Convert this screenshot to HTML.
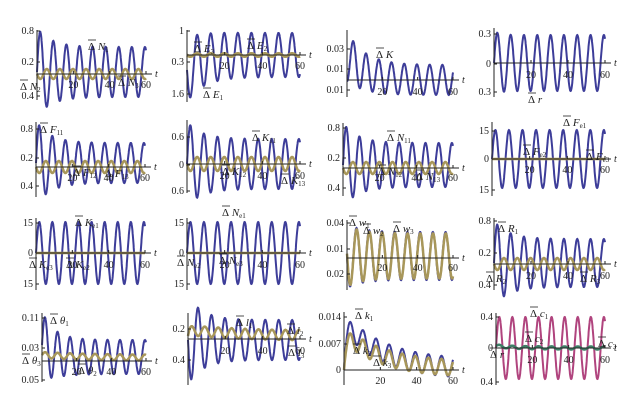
<!DOCTYPE html>
<html><head><meta charset="utf-8"><style>
html,body{margin:0;padding:0;background:#fff}
svg{display:block}
text{font-family:"Liberation Serif",serif;fill:#222}
</style></head><body>
<svg id="s" width="641" height="401" viewBox="0 0 641 401" xmlns="http://www.w3.org/2000/svg"></svg>
<script>
const S=document.getElementById('s');
const NS='http://www.w3.org/2000/svg';
function el(n,a,t){const e=document.createElementNS(NS,n);for(const k in a)e.setAttribute(k,a[k]);if(t!==undefined)e.textContent=t;S.appendChild(e);return e;}
const B='#3d3d99',Y='#a8975a',P='#b0447e',G='#3f7d66';
const w=2*Math.PI/7.2;
const E=Math.exp,sin=Math.sin,cos=Math.cos;
function curve(p,f,col,sw){
  let d='';
  for(let i=0;i<=600;i++){const t=i/10;const x=p.ax+t*(p.x60-p.ax)/60;const y=f(t);d+=(i?'L':'M')+x.toFixed(1)+' '+y.toFixed(1);}
  el('path',{d:d,fill:'none',stroke:col,'stroke-width':sw||2});
}
function lab(x,y,L,sub){
  el('line',{x1:x,y1:y-10,x2:x+8,y2:y-10,stroke:'#222','stroke-width':0.8});
  const t=el('text',{x:x,y:y,'font-size':11});
  const a=document.createElementNS(NS,'tspan');a.textContent='\u0394';t.appendChild(a);
  const b=document.createElementNS(NS,'tspan');b.setAttribute('font-style','italic');b.textContent=' '+L;t.appendChild(b);
  if(sub){const c=document.createElementNS(NS,'tspan');c.setAttribute('font-size',7);c.setAttribute('dy',2);c.textContent=sub;t.appendChild(c);}
}
function panel(p){
  p.curves.forEach(c=>curve(p,c[0],c[1],c[2]));
  el('line',{x1:p.ax,y1:p.top,x2:p.ax,y2:p.bot,stroke:'#222','stroke-width':1});
  el('line',{x1:p.ax,y1:p.zy,x2:p.x60+6,y2:p.zy,stroke:'#222','stroke-width':1});
  el('text',{x:p.x60+9,y:p.zy+3,'font-size':10,'font-style':'italic'},'t');
  p.yt.forEach(v=>{el('text',{x:p.ax-3,y:v[1]+3,'font-size':10,'text-anchor':'end'},v[0]);el('line',{x1:p.ax,y1:v[1],x2:p.ax+3,y2:v[1],stroke:'#222'});});
  [20,40,60].forEach(v=>{const x=p.ax+v*(p.x60-p.ax)/60;el('text',{x:x,y:p.xl,'font-size':10,'text-anchor':'middle'},v);el('line',{x1:x,y1:p.zy,x2:x,y2:p.zy-3,stroke:'#222'});});
  p.labs.forEach(l=>lab(l[0],l[1],l[2],l[3]));
}
const A=(a0,a1,tau)=>t=>a1+(a0-a1)*E(-t/tau);
{const a=A(44,25,8);panel({ax:37,x60:146,zy:74,top:30,bot:100,xl:88,yt:[['0.8',31],['0.2',62],['0.4',96]],
curves:[[t=>72-a(t)*sin(w*t),B],[t=>74+5*sin(w*t),Y,2.5]],labs:[[88,50,'N','1'],[20,90,'N','2'],[118,86,'N','3']]});}
{const a=A(32,22,10);panel({ax:187,x60:300,zy:55,top:30,bot:102,xl:69,yt:[['1',31],['0.3',62],['1.6',94]],
curves:[[t=>55+15*E(-t/8)+a(t)*sin(w*t),B],[t=>55+1.5*sin(w*t),Y,3]],labs:[[194,52,'E','3'],[247,49,'E','2'],[203,98,'E','1']]});}
{panel({ax:347,x60:453,zy:80,top:30,bot:97,xl:95,yt:[['0.03',49],['0.01',69],['0.01',90]],
curves:[[t=>80-24*E(-t/10)+(15+10*E(-t/10))*cos(w*t),B]],labs:[[376,58,'K','']]});}
{panel({ax:494,x60:605,zy:63,top:28,bot:97,xl:78,yt:[['0.3',34],['0',64],['0.3',92]],
curves:[[t=>63-(28+4*E(-t/3))*sin(w*t),B]],labs:[[528,103,'r','']]});}
{const a=A(42,20,8);panel({ax:36,x60:145,zy:167,top:122,bot:197,xl:181,yt:[['0.8',129],['0.2',158],['0.4',186]],
curves:[[t=>163-a(t)*sin(w*t),B],[t=>167+6*sin(w*t),Y,2.5]],labs:[[40,133,'F','11'],[73,176,'F','12'],[105,177,'F','13']]});}
{const a=A(42,25,8);panel({ax:187,x60:300,zy:164,top:120,bot:193,xl:179,yt:[['0.6',137],['0',165],['0.6',191]],
curves:[[t=>164-a(t)*sin(w*t),B],[t=>164+7*sin(w*t),Y,2.5]],labs:[[252,141,'K','11'],[222,175,'K','12'],[281,184,'K','13']]});}
{const a=A(42,22,8);panel({ax:343,x60:453,zy:168,top:123,bot:196,xl:181,yt:[['0.8',128],['0.2',158],['0.4',188]],
curves:[[t=>165-a(t)*sin(w*t),B],[t=>168+6*sin(w*t),Y,2.5]],labs:[[387,141,'N','11'],[378,175,'N','12'],[416,180,'N','13']]});}
{panel({ax:492,x60:605,zy:159,top:122,bot:196,xl:173,yt:[['15',131],['0',159],['15',190]],
curves:[[t=>159-29*sin(w*t),B],[t=>159,Y,2.5]],labs:[[563,126,'F','e1'],[523,155,'F','e2'],[586,160,'F','e3']]});}
{panel({ax:36,x60:145,zy:253,top:218,bot:290,xl:268,yt:[['15',223],['0',253],['15',284]],
curves:[[t=>253-31*sin(w*t),B],[t=>253,Y,2.5]],labs:[[75,226,'K','e1'],[29,268,'K','e3'],[66,268,'K','e2']]});}
{panel({ax:187,x60:300,zy:253,top:218,bot:290,xl:268,yt:[['15',223],['0',253],['15',284]],
curves:[[t=>253-31*sin(w*t),B],[t=>253,Y,2.5]],labs:[[222,216,'N','e1'],[177,266,'N','e2'],[219,264,'N','e3']]});}
{const a=A(32,24,8);panel({ax:347,x60:453,zy:258,top:220,bot:290,xl:271,yt:[['0.04',223],['0.01',249],['0.02',274]],
curves:[[t=>256+a(t)*sin(w*t),B],[t=>256+(a(t)-1.5)*sin(w*t-0.08),Y,2.5]],labs:[[349,226,'w','1'],[363,234,'w','2'],[393,232,'w','3']]});}
{const a=A(42,24,8);panel({ax:494,x60:605,zy:264,top:218,bot:290,xl:279,yt:[['0.8',221],['0.2',253],['0.4',285]],
curves:[[t=>263-a(t)*sin(w*t),B],[t=>264+6*sin(w*t),Y,2.5]],labs:[[498,232,'R','1'],[486,282,'R','2'],[580,282,'R','3']]});}
{const a=A(34,17,8);panel({ax:42,x60:146,zy:361,top:313,bot:382,xl:375,yt:[['0.11',318],['0.03',348],['0.05',380]],
curves:[[t=>357-12*E(-t/6)-a(t)*sin(w*t),B],[t=>358-3*E(-t/30)-3*sin(w*t),Y,2.5]],labs:[[50,324,'θ','1'],[22,364,'θ','3'],[78,374,'θ','2']]});}
{const a=A(44,20,8);panel({ax:188,x60:300,zy:339,top:313,bot:385,xl:354,yt:[['0.2',329],['0.4',360]],
curves:[[t=>340+a(t)*sin(w*t),B],[t=>336-6*(1-E(-t))*E(-t/30)-5*sin(w*t),Y,2.5]],labs:[[236,326,'l','1'],[287,334,'l','2'],[288,356,'l','3']]});}
{panel({ax:344,x60:453,zy:370,top:312,bot:385,xl:384,yt:[['0.014',317],['0.007',344],['0',370]],
curves:[[t=>370-48*E(-t/22)*(1-E(-t/1.2))-10*sin(w*(t-1.5))*(1-E(-t/1.2)),B],[t=>370-36*E(-t/22)*(1-E(-t/1.2))-8*sin(w*(t-1.5))*(1-E(-t/1.2)),Y,2.5]],labs:[[355,319,'k','1'],[353,354,'k','2'],[373,366,'k','3']]});}
{panel({ax:496,x60:605,zy:348,top:313,bot:385,xl:363,yt:[['0.4',317],['0',348],['0.4',382]],
curves:[[t=>348-31*sin(w*t),P],[t=>348-2*E(-t/10)-1.5*sin(w*t),G,2.5]],labs:[[530,317,'c','1'],[525,342,'c','2'],[598,347,'c','3'],[490,358,'r','']]});}
</script>
</body></html>
